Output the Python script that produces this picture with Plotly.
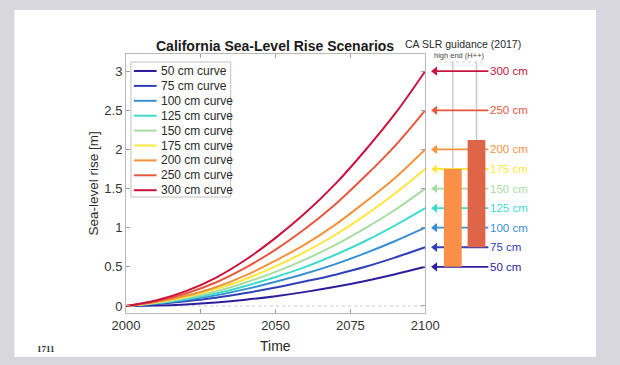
import plotly.graph_objects as go

# ---------------- data ----------------
years = [2000, 2010, 2020, 2030, 2040, 2050, 2060, 2070, 2080, 2090, 2100]
curve_names = ["50 cm curve", "75 cm curve", "100 cm curve", "125 cm curve", "150 cm curve",
               "175 cm curve", "200 cm curve", "250 cm curve", "300 cm curve"]
rise_50 = [0, 0.005, 0.02, 0.045, 0.08, 0.125, 0.18, 0.245, 0.32, 0.405, 0.50]
rise_75 = [0, 0.025, 0.06, 0.105, 0.165, 0.235, 0.315, 0.40, 0.50, 0.62, 0.75]
rise_100 = [0, 0.03, 0.075, 0.135, 0.215, 0.31, 0.415, 0.535, 0.675, 0.83, 1.00]
rise_125 = [0, 0.035, 0.09, 0.16, 0.255, 0.37, 0.50, 0.655, 0.83, 1.03, 1.25]
rise_150 = [0, 0.04, 0.10, 0.185, 0.30, 0.435, 0.595, 0.78, 0.995, 1.23, 1.50]
rise_175 = [0, 0.045, 0.115, 0.215, 0.345, 0.505, 0.695, 0.91, 1.16, 1.44, 1.75]
rise_200 = [0, 0.05, 0.13, 0.24, 0.39, 0.58, 0.79, 1.04, 1.33, 1.64, 2.00]
rise_250 = [0, 0.06, 0.16, 0.30, 0.49, 0.72, 0.99, 1.30, 1.66, 2.05, 2.50]
rise_300 = [0, 0.07, 0.19, 0.36, 0.59, 0.87, 1.19, 1.56, 1.99, 2.46, 3.00]
series = [rise_50, rise_75, rise_100, rise_125, rise_150, rise_175, rise_200, rise_250, rise_300]
colors = ["#2d1e9c", "#3040b8", "#3a8fd3", "#3fdccb", "#a8dca2",
          "#ffe63c", "#f2923e", "#e5583f", "#c8143d"]

target_labels = ["50 cm", "75 cm", "100 cm", "125 cm", "150 cm", "175 cm", "200 cm", "250 cm", "300 cm"]
target_values = [0.5, 0.75, 1.0, 1.25, 1.5, 1.75, 2.0, 2.5, 3.0]

bar_bottoms = [0.5, 0.75]
bar_tops = [1.75, 2.12]
bar_colors = ["#fa8f48", "#de6547"]

x_ticks = [2000, 2025, 2050, 2075, 2100]
y_ticks = [0, 0.5, 1, 1.5, 2, 2.5, 3]

# ---------------- layout helpers ----------------
W, H = 620, 365
L, R, T, B = 126, 20, 54, 52
PW, PH = W - L - R, H - T - B


def pxx(px):
    return (px - L) / PW


def pxy(py):
    return (H - B - py) / PH


split = pxx(429)

fig = go.Figure()

for name, vals, c in zip(curve_names, series, colors):
    fig.add_trace(go.Scatter(x=years, y=vals, mode="lines", name=name,
                             line=dict(color=c, width=2, shape="spline", smoothing=1.0),
                             showlegend=False, xaxis="x", yaxis="y"))

# arrows on right panel (x2 in pixel-like units)
for lab, v, c in zip(target_labels, target_values, colors):
    fig.add_trace(go.Scatter(x=[438, 493], y=[v, v], mode="lines", line=dict(color=c, width=1.8),
                             showlegend=False, xaxis="x2", yaxis="y", hoverinfo="skip"))
    fig.add_trace(go.Scatter(x=[439], y=[v], mode="markers",
                             marker=dict(symbol="triangle-left", size=8, color=c),
                             showlegend=False, xaxis="x2", yaxis="y", hoverinfo="skip"))

shapes = []
# slide background
shapes.append(dict(type="rect", xref="paper", yref="paper", x0=pxx(13), x1=pxx(602),
                   y0=pxy(357), y1=pxy(10), fillcolor="white", line=dict(width=0), layer="below"))
# dotted zero line
shapes.append(dict(type="line", xref="x", yref="y", x0=2000, x1=2100, y0=0, y1=0,
                   line=dict(color="#c8c8c8", width=1, dash="dot"), layer="below"))
# guidance grey lines and bars
bar_x = [(448, 466), (472, 490)]
for (x0, x1), b0, b1, bc in zip(bar_x, bar_bottoms, bar_tops, bar_colors):
    xm = (x0 + x1) / 2
    shapes.append(dict(type="line", xref="x2", yref="y", x0=xm, x1=xm, y0=b1, y1=3.12,
                       line=dict(color="#c9c9c9", width=1.5), layer="below"))
    shapes.append(dict(type="rect", xref="x2", yref="y", x0=x0, x1=x1, y0=b0, y1=b1,
                       fillcolor=bc, line=dict(width=0), layer="above"))
# dotted underline of H++ label
shapes.append(dict(type="line", xref="x2", yref="paper", x0=442, x1=487, y0=pxy(62), y1=pxy(62),
                   line=dict(color="#cfcfcf", width=1, dash="dot")))

# manual legend
shapes.append(dict(type="rect", xref="paper", yref="paper", x0=pxx(131), x1=pxx(232),
                   y0=pxy(197), y1=pxy(62), fillcolor="white", line=dict(color="#c0c0c0", width=1),
                   layer="above"))
annotations = []
for i, (name, c) in enumerate(zip(curve_names, colors)):
    yy = 71 + i * 14.9
    shapes.append(dict(type="line", xref="paper", yref="paper", x0=pxx(134), x1=pxx(157),
                       y0=pxy(yy), y1=pxy(yy), line=dict(color=c, width=2), layer="above"))
    annotations.append(dict(xref="paper", yref="paper", x=pxx(159), y=pxy(yy), text=name,
                            showarrow=False, xanchor="left", yanchor="middle",
                            font=dict(size=12, color="#2a2a2a")))

for lab, v, c in zip(target_labels, target_values, colors):
    annotations.append(dict(xref="x2", yref="y", x=493, y=v, text=lab, showarrow=False,
                            xanchor="left", yanchor="middle", font=dict(size=11.5, color=c)))

annotations += [
    dict(xref="paper", yref="paper", x=pxx(277), y=pxy(46), text="<b>California Sea-Level Rise Scenarios</b>",
         showarrow=False, xanchor="center", yanchor="middle", font=dict(size=14, color="#1a1a1a")),
    dict(xref="paper", yref="paper", x=pxx(277), y=pxy(346), text="Time",
         showarrow=False, xanchor="center", yanchor="middle", font=dict(size=14, color="#2a2a2a")),
    dict(xref="paper", yref="paper", x=pxx(93), y=pxy(183), text="Sea-level rise [m]", textangle=-90,
         showarrow=False, xanchor="center", yanchor="middle", font=dict(size=13.5, color="#2a2a2a")),
    dict(xref="paper", yref="paper", x=pxx(467), y=pxy(44), text="CA SLR guidance (2017)",
         showarrow=False, xanchor="center", yanchor="middle", font=dict(size=10.5, color="#2a2a2a")),
    dict(xref="paper", yref="paper", x=pxx(464), y=pxy(56), text="high end (H++)",
         showarrow=False, xanchor="center", yanchor="middle", font=dict(size=7.5, color="#444")),
    dict(xref="paper", yref="paper", x=pxx(45), y=pxy(349), text="<b>1711</b>",
         showarrow=False, xanchor="center", yanchor="middle",
         font=dict(size=9, color="#333", family="Liberation Serif, DejaVu Serif, serif")),
]

axis_common = dict(showgrid=False, zeroline=False, ticks="inside", ticklen=4, tickcolor="#a0a0a0",
                   showline=True, linecolor="#b8b8b8", linewidth=1, mirror="ticks",
                   tickfont=dict(size=13, color="#333"))

fig.update_layout(
    width=W, height=H,
    margin=dict(l=L, r=R, t=T, b=B),
    paper_bgcolor="#d8d8dc", plot_bgcolor="rgba(0,0,0,0)",
    font=dict(family="Liberation Sans, Arial, sans-serif"),
    showlegend=False,
    xaxis=dict(domain=[0, split], range=[2000, 2100], tickvals=x_ticks, anchor="y", **axis_common),
    yaxis=dict(range=[-0.09, 3.22], tickvals=y_ticks, anchor="x", **axis_common),
    xaxis2=dict(domain=[split, 1], range=[429, 600], visible=False, anchor="y", fixedrange=True),
    shapes=shapes, annotations=annotations,
)

fig.write_html("out.html", config={"displayModeBar": False},
               post_script="document.body.style.margin='0';document.body.style.overflow='hidden';")
